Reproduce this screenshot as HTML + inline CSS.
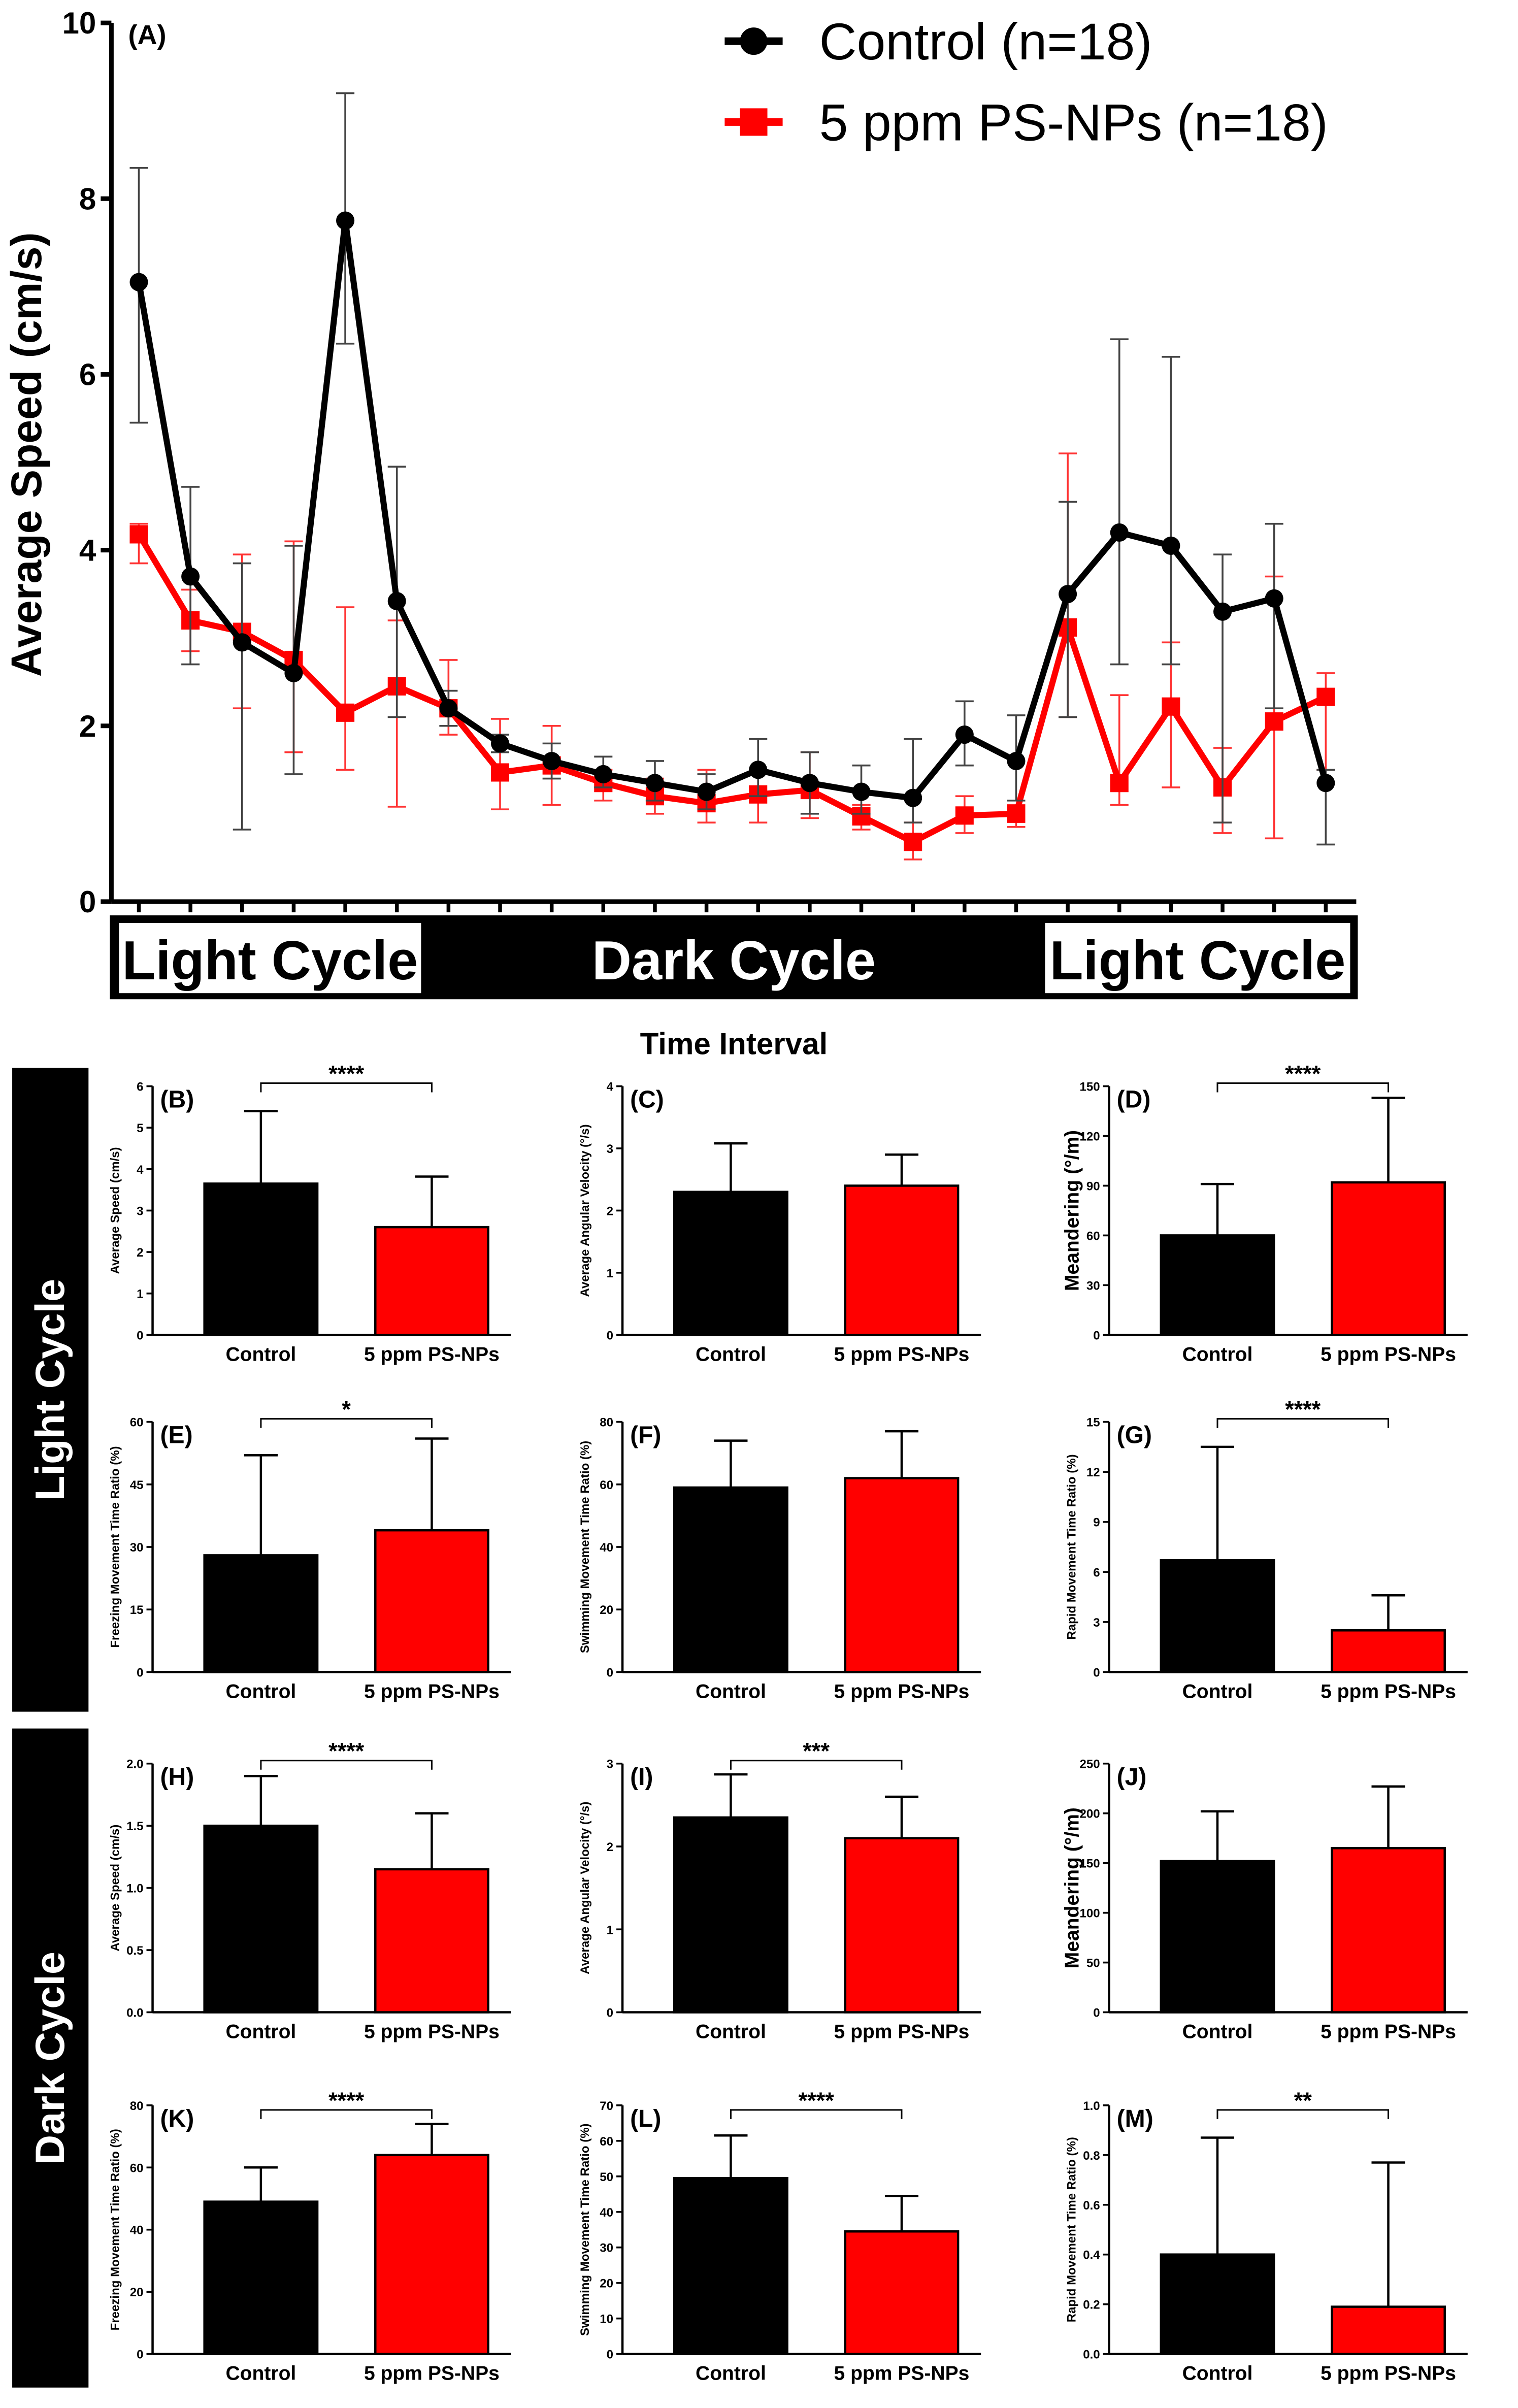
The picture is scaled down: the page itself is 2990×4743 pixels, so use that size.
<!DOCTYPE html>
<html><head><meta charset="utf-8"><style>
html,body{margin:0;padding:0;background:#fff}
svg{display:block;font-family:"Liberation Sans",sans-serif}
</style></head><body>
<svg id="fig" width="2990" height="4743" viewBox="0 0 995 1578.4" xmlns="http://www.w3.org/2000/svg"></svg>
<script>
// Panel A data
const aLabels = ["1","2","3","4","5","6","7","8","9","10","11","12","13","14","15","16","17","18","19","20","21","22","23","24"];
const ctrlMean = [7.05,3.7,2.95,2.6,7.75,3.42,2.2,1.8,1.6,1.45,1.35,1.25,1.5,1.35,1.25,1.18,1.9,1.6,3.5,4.2,4.05,3.3,3.45,1.35];
const ctrlUpper = [8.35,4.72,3.85,4.05,9.2,4.95,2.4,1.9,1.8,1.65,1.6,1.45,1.85,1.7,1.55,1.85,2.28,2.12,4.55,6.4,6.2,3.95,4.3,1.5];
const ctrlLower = [5.45,2.7,0.82,1.45,6.35,2.1,2.0,1.7,1.4,1.3,1.15,1.05,1.2,1.0,1.0,0.9,1.55,1.15,2.1,2.7,2.7,0.9,2.2,0.65];
const psMean = [4.18,3.2,3.07,2.75,2.15,2.45,2.2,1.47,1.55,1.35,1.2,1.12,1.22,1.27,0.97,0.68,0.98,1.0,3.12,1.35,2.22,1.3,2.05,2.33];
const psUpper = [4.3,3.55,3.95,4.1,3.35,3.2,2.75,2.08,2.0,1.5,1.4,1.5,1.5,1.7,1.1,0.9,1.2,1.1,5.1,2.35,2.95,1.75,3.7,2.6];
const psLower = [3.85,2.85,2.2,1.7,1.5,1.08,1.9,1.05,1.1,1.15,1.0,0.9,0.9,0.95,0.82,0.48,0.78,0.85,2.1,1.1,1.3,0.78,0.72,1.5];
const aTicks = [0,2,4,6,8,10];

// Bar panels data
const panelIds = ["B","C","D","E","F","G","H","I","J","K","L","M"];
const panelMax = [6,4,150,60,80,15,2.0,3,250,80,70,1.0];
const panelStep = [1,1,30,15,20,3,0.5,1,50,20,10,0.2];
const ctrlVals = [3.65,2.3,60,28,59,6.7,1.5,2.35,152,49,49.5,0.4];
const ctrlErr = [1.75,0.78,31,24,15,6.8,0.4,0.52,50,11,12,0.47];
const psVals = [2.6,2.4,92,34,62,2.5,1.15,2.1,165,64,34.5,0.19];
const psErr = [1.22,0.5,51,22,15,2.1,0.45,0.5,62,10,10,0.58];
const sigLabels = ["****","","****","*","","****","****","***","","****","****","**"];
const yTitles = ["Average Speed (cm/s)","Average Angular Velocity (°/s)","Meandering (°/m)","Freezing Movement Time Ratio (%)","Swimming Movement Time Ratio (%)","Rapid Movement Time Ratio (%)","Average Speed (cm/s)","Average Angular Velocity (°/s)","Meandering (°/m)","Freezing Movement Time Ratio (%)","Swimming Movement Time Ratio (%)","Rapid Movement Time Ratio (%)"];

const svg=document.getElementById('fig');
const NS="http://www.w3.org/2000/svg";
function mk(tag,attrs,parent,text){const e=document.createElementNS(NS,tag);for(const k in attrs)e.setAttribute(k,attrs[k]);if(text!==undefined)e.textContent=text;(parent||svg).appendChild(e);return e;}

// ---- Panel A ----
const gA=mk('g',{});


const ax0=73, yTop=15, yBot=591, x0=91, x1=869;
const ay=v=>yBot-(v/10)*(yBot-yTop);
const axx=i=>x0+i*(x1-x0)/(aLabels.length-1);
let l=mk('line',{x1:ax0,y1:yTop,x2:ax0,y2:yBot,stroke:'#000','stroke-width':3},gA);

l=mk('line',{x1:ax0,y1:yBot,x2:x1+20,y2:yBot,stroke:'#000','stroke-width':3},gA);

aTicks.forEach(t=>{mk('line',{x1:ax0-7,y1:ay(t),x2:ax0,y2:ay(t),stroke:'#000','stroke-width':3},gA);
 const tx=mk('text',{x:ax0-10,y:ay(t)+7,'text-anchor':'end','font-size':20,'font-weight':'bold'},gA,String(t));
 });
aLabels.forEach((c,i)=>{mk('line',{x1:axx(i),y1:yBot,x2:axx(i),y2:yBot+7,stroke:'#000','stroke-width':2.5},gA);});
let t=mk('text',{x:0,y:0,transform:'translate(27,298) rotate(-90)','text-anchor':'middle','font-size':28,'font-weight':'bold'},gA,'Average Speed (cm/s)');

t=mk('text',{x:84,y:29,'font-size':18,'font-weight':'bold'},gA,'(A)');

function series(mean,up,lo,color,ecolor,marker,name){
 const g=mk('g',{},gA);
 
 mean.forEach((m,i)=>{const x=axx(i);
  mk('line',{x1:x,y1:ay(lo[i]),x2:x,y2:ay(up[i]),stroke:ecolor,'stroke-width':1.2},g);
  mk('line',{x1:x-6,y1:ay(lo[i]),x2:x+6,y2:ay(lo[i]),stroke:ecolor,'stroke-width':1.2},g);
  mk('line',{x1:x-6,y1:ay(up[i]),x2:x+6,y2:ay(up[i]),stroke:ecolor,'stroke-width':1.2},g);});
 mk('polyline',{points:mean.map((m,i)=>axx(i)+','+ay(m)).join(' '),fill:'none',stroke:color,'stroke-width':4},g);
 mean.forEach((m,i)=>{let p;
  if(marker==='c')p=mk('circle',{cx:axx(i),cy:ay(m),r:6,fill:color},g);
  else p=mk('rect',{x:axx(i)-6,y:ay(m)-6,width:12,height:12,fill:color},g);
  });
}
series(psMean,psUpper,psLower,'#f00','#f33','s','series-ps-nps');
series(ctrlMean,ctrlUpper,ctrlLower,'#000','#444','c','series-control');
// legend
let lg=mk('g',{},gA);
mk('line',{x1:475,y1:27,x2:513,y2:27,stroke:'#000','stroke-width':5},lg);mk('circle',{cx:494,cy:27,r:9,fill:'#000'},lg);
mk('text',{x:537,y:39,'font-size':34},lg,'Control (n=18)');
lg=mk('g',{},gA);
mk('line',{x1:475,y1:80,x2:513,y2:80,stroke:'#f00','stroke-width':5},lg);mk('rect',{x:485,y:71,width:18,height:18,fill:'#f00'},lg);
mk('text',{x:537,y:92,'font-size':34},lg,'5 ppm PS-NPs (n=18)');
// cycle bar
let cb=mk('g',{},gA);
mk('rect',{x:72,y:600,width:818,height:55,fill:'#000'},cb);
mk('rect',{x:78,y:605,width:198,height:46,fill:'#fff'},cb);
mk('rect',{x:685,y:605,width:200,height:46,fill:'#fff'},cb);
mk('text',{x:177,y:642,'text-anchor':'middle','font-size':36,'font-weight':'bold'},cb,'Light Cycle');
mk('text',{x:481,y:642,'text-anchor':'middle','font-size':36,'font-weight':'bold',fill:'#fff'},cb,'Dark Cycle');
mk('text',{x:785,y:642,'text-anchor':'middle','font-size':36,'font-weight':'bold'},cb,'Light Cycle');
t=mk('text',{x:481,y:691,'text-anchor':'middle','font-size':20,'font-weight':'bold'},gA,'Time Interval');


// side labels
[[700,422,'Light Cycle','side-label-light-cycle'],[1133,432,'Dark Cycle','side-label-dark-cycle']].forEach(s=>{
 const g=mk('g',{});
 mk('rect',{x:8,y:s[0],width:50,height:s[1],fill:'#000'},g);
 mk('text',{x:0,y:0,transform:`translate(42,${s[0]+s[1]/2}) rotate(-90)`,'text-anchor':'middle','font-size':27,'font-weight':'bold',fill:'#fff'},g,s[2]);
});

// bar panels
const colX=[100,408,727];
const rowTB=[[712,875],[932,1096],[1156,1319],[1380,1543]];
panelIds.forEach((id,k)=>{
 const ax=colX[k%3], top=rowTB[Math.floor(k/3)][0], bot=rowTB[Math.floor(k/3)][1];
 const g=mk('g',{});
 const yy=v=>bot-(v/panelMax[k])*(bot-top);
 mk('line',{x1:ax,y1:top,x2:ax,y2:bot,stroke:'#000','stroke-width':1.5},g);
 mk('line',{x1:ax,y1:bot,x2:ax+235,y2:bot,stroke:'#000','stroke-width':1.5},g);
 const n=Math.round(panelMax[k]/panelStep[k]);
 for(let i=0;i<=n;i++){const v=i*panelStep[k];
  mk('line',{x1:ax-4,y1:yy(v),x2:ax,y2:yy(v),stroke:'#000','stroke-width':1.2},g);
  const lab=panelStep[k]<1?v.toFixed(1):String(Math.round(v));
  mk('text',{x:ax-6,y:yy(v)+3,'text-anchor':'end','font-size':8,'font-weight':'bold'},g,lab);}
 const big=yTitles[k].startsWith('Meandering');
 mk('text',{x:0,y:0,transform:`translate(${ax-(big?20:22)},${(top+bot)/2}) rotate(-90)`,'text-anchor':'middle','font-size':big?13:8,'font-weight':'bold'},g,yTitles[k]);
 mk('text',{x:ax+5,y:top+14,'font-size':16,'font-weight':'bold'},g,'('+id+')');
 const bars=[[ax+34,ctrlVals[k],ctrlErr[k],'#000','Control','bar-control'],[ax+146,psVals[k],psErr[k],'#f00','5 ppm PS-NPs','bar-ps-nps']];
 bars.forEach(b=>{const cx=b[0]+37;
  mk('line',{x1:cx,y1:yy(b[1]),x2:cx,y2:yy(b[1]+b[2]),stroke:'#000','stroke-width':1.5},g);
  mk('line',{x1:cx-11,y1:yy(b[1]+b[2]),x2:cx+11,y2:yy(b[1]+b[2]),stroke:'#000','stroke-width':1.5},g);
  const r=mk('rect',{x:b[0],y:yy(b[1]),width:74,height:bot-yy(b[1]),fill:b[3],stroke:'#000','stroke-width':1.5},g);
  
  mk('text',{x:cx,y:bot+17,'text-anchor':'middle','font-size':13,'font-weight':'bold'},g,b[4]);});
 if(sigLabels[k]){const by=top-2+ (k>=9?5:0), c1=ax+71, c2=ax+183;
  const bg=mk('g',{},g);
  mk('polyline',{points:`${c1},${by+6} ${c1},${by} ${c2},${by} ${c2},${by+6}`,fill:'none',stroke:'#000','stroke-width':1},bg);
  mk('text',{x:(c1+c2)/2,y:by-1,'text-anchor':'middle','font-size':15,'font-weight':'bold'},bg,sigLabels[k]);}
});
</script>
</body></html>
